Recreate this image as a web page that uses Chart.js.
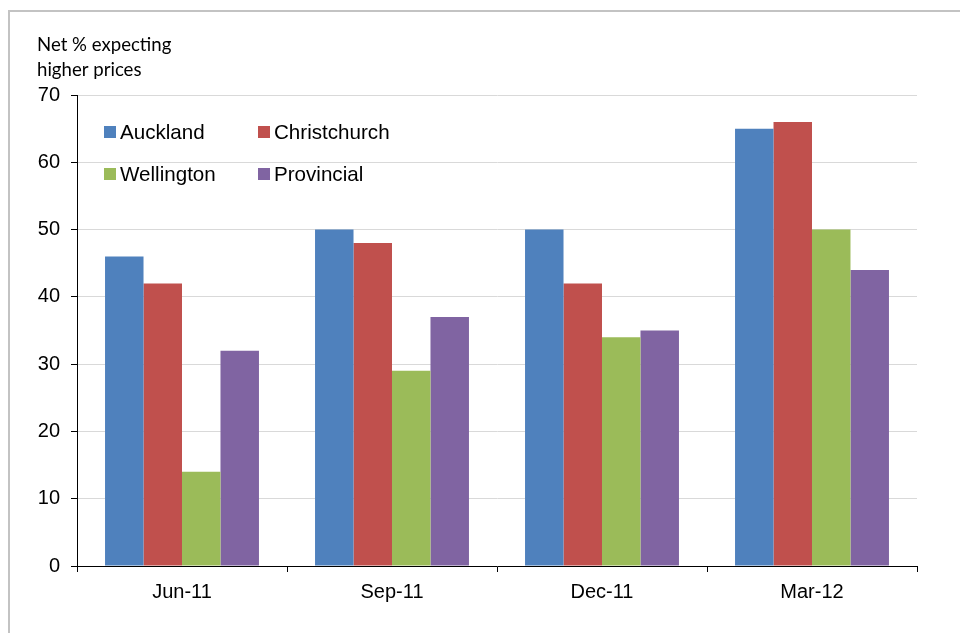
<!DOCTYPE html>
<html>
  <head>
    <title>Net % expecting higher prices</title>
    <script src="https://cdn.jsdelivr.net/npm/chart.js"></script>
    <style>
      html, body { margin: 0; padding: 0; background: #fff; }
      #wrap { position: relative; width: 960px; height: 633px; overflow: hidden; }
      #frame { position: absolute; left: 8px; top: 10px; width: 1000px; height: 700px;
               border-top: 2px solid #c3c3c3; border-left: 2px solid #c3c3c3; }
      canvas { position: absolute; left: 0; top: 0; }
    </style>
  </head>
  <body>
    <div id="wrap">
      <div id="frame"></div>
      <canvas id="price-chart" width="960" height="633"></canvas>
    </div>
    <script>
      var categories = ['Jun-11', 'Sep-11', 'Dec-11', 'Mar-12'];
      var auckland = [46, 50, 50, 65];
      var christchurch = [42, 48, 42, 66];
      var wellington = [14, 29, 34, 50];
      var provincial = [32, 37, 35, 44];
      var yTicks = [0, 10, 20, 30, 40, 50, 60, 70];
      var titleLines = ['Net % expecting', 'higher prices'];

      var tickFont = { family: "'Liberation Sans', Arial, sans-serif", size: 20 };

      // legend sits inside the plot, two columns by two rows
      var legendInPlot = {
        id: 'legendInPlot',
        afterDraw: function (chart) {
          var ctx = chart.ctx;
          var cols = [104, 258];
          var rows = [132, 174];
          ctx.save();
          ctx.font = "20.6px 'Liberation Sans', Arial, sans-serif";
          ctx.textBaseline = 'middle';
          chart.data.datasets.forEach(function (ds, i) {
            var x = cols[i % 2];
            var y = rows[Math.floor(i / 2)];
            ctx.fillStyle = ds.backgroundColor;
            ctx.fillRect(x, y - 6, 12, 12);
            ctx.fillStyle = '#000';
            ctx.fillText(ds.label, x + 16, y + 1);
          });
          // axis title above the y axis
          ctx.font = "18.6px Lato, 'Open Sans', sans-serif";
          ctx.textBaseline = 'alphabetic';
          ctx.fillText(titleLines[0], 37, 51);
          ctx.fillText(titleLines[1], 37, 76);
          ctx.restore();
        },
      };

      var chartData = {
        labels: categories,
        datasets: [
          { label: 'Auckland', data: auckland, backgroundColor: '#4F81BD' },
          { label: 'Christchurch', data: christchurch, backgroundColor: '#C0504D' },
          { label: 'Wellington', data: wellington, backgroundColor: '#9BBB59' },
          { label: 'Provincial', data: provincial, backgroundColor: '#8064A2' },
        ],
      };

      var chartOptions = {
        responsive: false,
        animation: false,
        devicePixelRatio: 1,
        layout: { padding: { left: 0, top: 95, right: 43, bottom: 0 } },
        datasets: {
          bar: {
            barPercentage: 1.0,
            categoryPercentage: 0.733,
            borderWidth: 0,
          },
        },
        plugins: {
          legend: { display: false },
          tooltip: { enabled: false },
        },
        scales: {
          x: {
            offset: true,
            grid: {
              offset: true,
              drawOnChartArea: false,
              drawTicks: true,
              tickLength: 6,
              tickColor: '#000',
            },
            border: { color: '#000', width: 1 },
            ticks: { color: '#000', font: tickFont, padding: 8 },
            afterFit: function (scale) { scale.height = 67; },
          },
          y: {
            min: 0,
            max: 70,
            afterBuildTicks: function (scale) {
              scale.ticks = yTicks.map(function (v) { return { value: v }; });
            },
            grid: {
              color: '#d9d9d9',
              lineWidth: 1,
              drawTicks: true,
              tickLength: 6,
              tickColor: '#000',
            },
            border: { color: '#000', width: 1 },
            ticks: { color: '#000', font: tickFont, padding: 11 },
            afterFit: function (scale) { scale.width = 77; },
          },
        },
      };

      var ctx = document.getElementById('price-chart').getContext('2d');
      var priceChart = new Chart(ctx, {
        type: 'bar',
        data: chartData,
        options: chartOptions,
        plugins: [legendInPlot],
      });
    </script>
  </body>
</html>
